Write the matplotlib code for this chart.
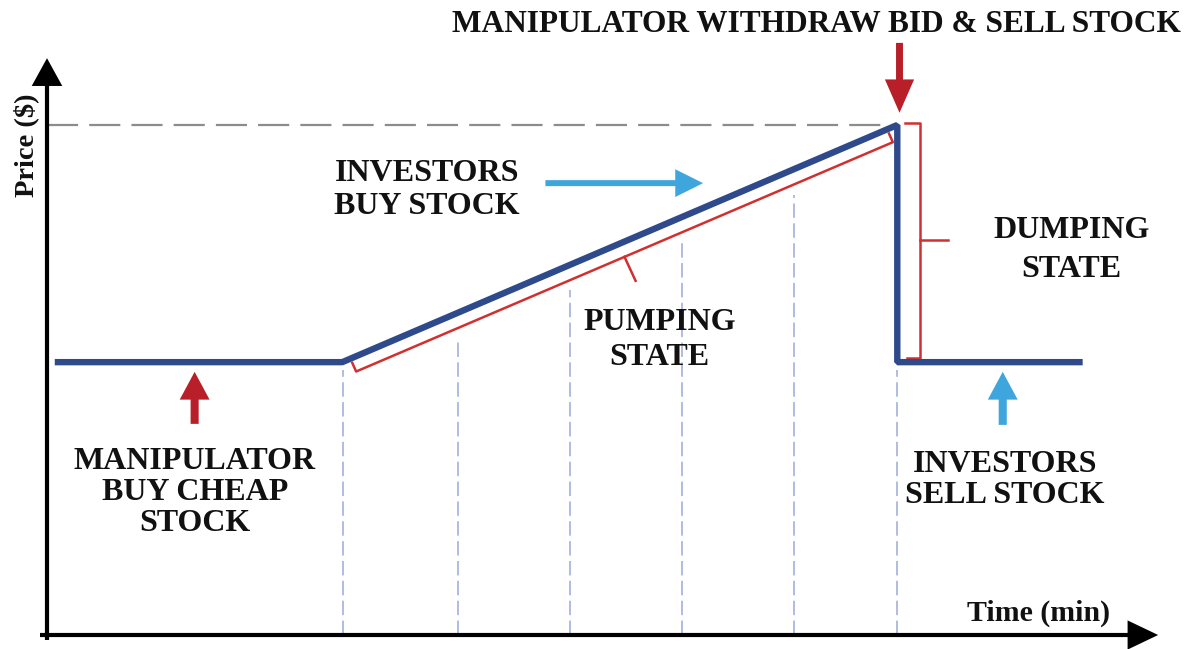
import numpy as np
import matplotlib
matplotlib.use("Agg")
import matplotlib.pyplot as plt
from matplotlib.patches import FancyArrowPatch, ArrowStyle

# price path of a pump & dump (time in min, price in $)
t_path = [0.07, 2.66, 7.66, 7.66, 9.33]
p_path = [5.35, 5.35, 10.0, 5.35, 5.35]
t_pump, t_peak = 2.66, 7.66
p_low, p_high = 5.35, 10.0

# dashed time markers
grid_t = [2.67, 3.70, 4.71, 5.72, 6.73, 7.66]

BLUE = "#2e4a8b"
RED = "#d03030"
DARKRED = "#b81f28"
LIGHTBLUE = "#3ea6dd"
GRIDBLUE = "#a9b8df"
FONT = dict(family="Liberation Serif", weight="bold", color="#111111")

fig = plt.figure(figsize=(11.96, 6.49), dpi=100)
ax = fig.add_axes([0, 0, 1, 1])
ax.set_xlim(-0.4234, 10.351)
ax.set_ylim(-0.2745, 12.451)
ax.axis("off")


def ramp(t):
    return np.interp(t, [t_pump, t_peak], [p_low, p_high])


def arrow(a, b, color, hl, hw, tw):
    st = ArrowStyle.Simple(head_length=hl, head_width=hw, tail_width=tw)
    ax.add_patch(FancyArrowPatch(a, b, arrowstyle=st, mutation_scale=1,
                                 color=color, shrinkA=0, shrinkB=0, lw=0, zorder=5))


# vertical dashed markers
for i, t in enumerate(grid_t):
    top = p_low - 0.15 if i in (0, len(grid_t) - 1) else ramp(t) - 0.5
    ax.plot([t, t], [0, top], color=GRIDBLUE, lw=1.3, dashes=(8, 3), zorder=1)

# peak reference line
ax.plot([0, t_peak], [p_high, p_high], color="#8c8c8c", lw=1.6, dashes=(14, 5), zorder=1)

# price path
ax.plot(t_path, p_path, color=BLUE, lw=4.6, solid_joinstyle="bevel",
        solid_capstyle="butt", zorder=4)

# pumping bracket along the ramp
bt = np.array([t_pump + 0.125, t_peak - 0.04])
bp = ramp(bt) - 0.3
tick = 0.17
ax.plot([bt[0] - 0.035, bt[0], bt[1], bt[1] - 0.035],
        [bp[0] + tick, bp[0], bp[1], bp[1] + tick], color=RED, lw=1.8, zorder=3)
mt, mp = bt.mean(), bp.mean()
ax.plot([mt, mt + 0.1], [mp, mp - 0.47], color=RED, lw=1.8, zorder=3)

# dumping bracket
ax.plot([7.73, 7.865, 7.865, 7.75], [10.04, 10.04, 5.43, 5.43], color=RED, lw=1.8, zorder=3)
ax.plot([7.865, 8.12], [7.75, 7.75], color=RED, lw=1.8, zorder=3)

# axes arrows
arrow((-0.063, 0), (10.01, 0), "black", 22, 21, 3)
arrow((0, -0.098), (0, 11.31), "black", 20, 22, 3)

# event arrows
arrow((7.68, 11.61), (7.68, 10.24), DARKRED, 24, 21, 5)
arrow((4.49, 8.86), (5.91, 8.86), LIGHTBLUE, 20, 20, 4.3)
arrow((1.33, 4.14), (1.33, 5.16), DARKRED, 20, 21.5, 5.8)
arrow((8.61, 4.12), (8.61, 5.16), LIGHTBLUE, 20, 21.5, 5.8)

# labels
ax.text(6.93, 11.98, "MANIPULATOR WITHDRAW BID & SELL STOCK", ha="center", va="center",
        fontsize=22.6, **FONT)
ax.text(2.59, 8.73, "INVESTORS\nBUY STOCK", ha="left", va="center", fontsize=23,
        linespacing=1.2, **FONT)
ax.text(5.52, 5.78, "PUMPING\nSTATE", ha="center", va="center", fontsize=23,
        linespacing=1.28, **FONT)
ax.text(9.23, 7.55, "DUMPING\nSTATE", ha="center", va="center", fontsize=23,
        linespacing=1.42, **FONT)
ax.text(1.33, 2.80, "MANIPULATOR\nBUY CHEAP\nSTOCK", ha="center", va="center",
        fontsize=23, linespacing=1.1, **FONT)
ax.text(8.63, 3.04, "INVESTORS\nSELL STOCK", ha="center", va="center", fontsize=23,
        linespacing=1.05, **FONT)
ax.text(8.93, 0.43, "Time (min)", ha="center", va="center", fontsize=21.5, **FONT)
ax.text(-0.19, 9.61, "Price ($)", ha="center", va="center", rotation=90, fontsize=20.5, **FONT)

fig.savefig("out.png", dpi=100)
